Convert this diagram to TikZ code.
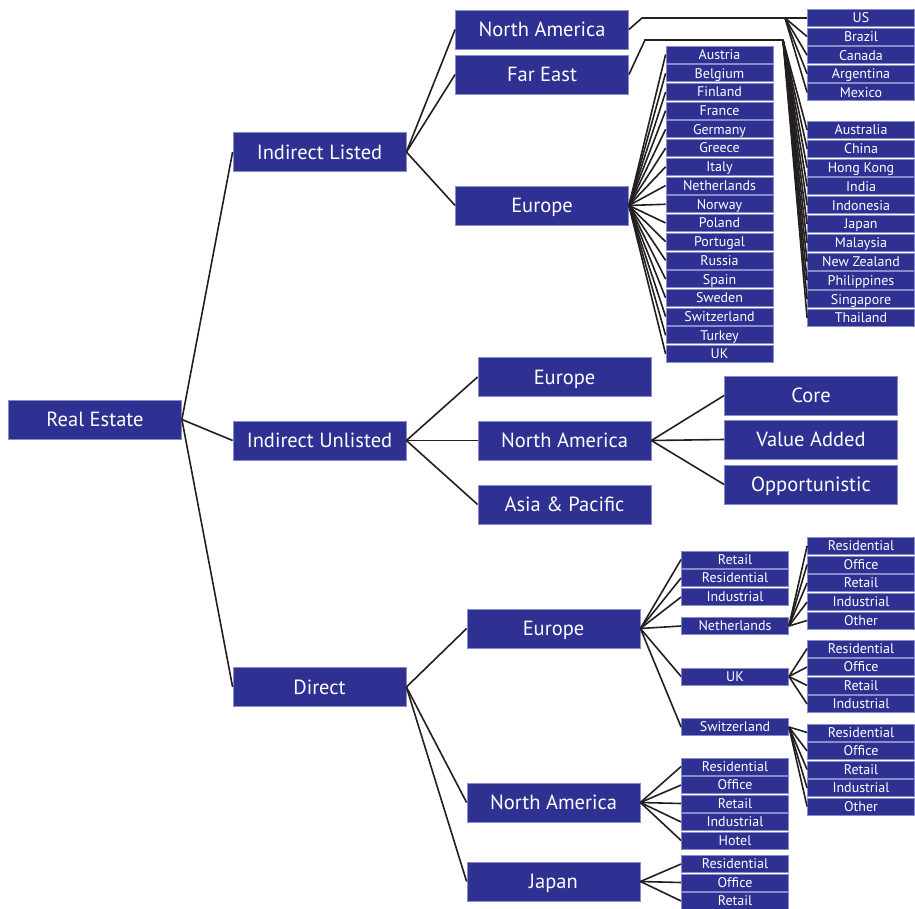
\documentclass[tikz,border=0pt]{standalone}
\usepackage{fontspec}
\setmainfont{PT Sans}
\definecolor{boxblue}{HTML}{2E3192}
\definecolor{boxedge}{HTML}{8A8CC8}
\definecolor{wirec}{HTML}{231F20}
\begin{document}
\begin{tikzpicture}[x=1pt,y=-1pt,
 box/.style={fill=boxblue,draw=boxedge,line width=0.8pt,text=white,inner sep=0pt,anchor=center,text depth=0pt},
 big/.style={box,minimum width=173pt,minimum height=39pt,text height=14.2pt,font=\fontsize{20.5}{21}\selectfont},
 small/.style={box,minimum width=107pt,minimum height=17pt,text height=9.8pt,font=\fontsize{14}{15}\selectfont},
 wire/.style={draw=wirec,line width=1.6pt}]
\useasboundingbox (0,0) rectangle (915,909);
% big boxes
\node[big] (re) at (95,419.5) {Real Estate};
\node[big] (il) at (319.5,152) {Indirect Listed};
\node[big] (iu) at (319.5,440.5) {Indirect Unlisted};
\node[big] (dir) at (319.5,687) {Direct};
\node[big] (lna) at (542,29.5) {North America};
\node[big] (lfe) at (542,74.5) {Far East};
\node[big] (leu) at (542,205.5) {Europe};
\node[big] (ueu) at (564.5,377) {Europe};
\node[big] (una) at (564.5,440.5) {North America};
\node[big] (uap) at (564.5,504.5) {Asia \& Pacific};
\node[big] (core) at (811,395.5) {Core};
\node[big] (va) at (811,439.5) {Value Added};
\node[big] (opp) at (811,484.5) {Opportunistic};
\node[big] (deu) at (553.5,628.5) {Europe};
\node[big] (dna) at (553.5,802.5) {North America};
\node[big] (djp) at (553.5,881.5) {Japan};
% listed europe countries
\foreach \t [count=\i from 0] in {Austria,Belgium,Finland,France,Germany,Greece,Italy,Netherlands,Norway,Poland,Portugal,Russia,Spain,Sweden,Switzerland,Turkey,UK}
  \node[small] (eu\i) at ({719.5},{54.5+18.72*\i}) {\t};
\foreach \t [count=\i from 0] in {US,Brazil,Canada,Argentina,Mexico}
  \node[small] (na\i) at ({861},{18+18.6*\i}) {\t};
\foreach \t [count=\i from 0] in {Australia,China,Hong Kong,India,Indonesia,Japan,Malaysia,New Zealand,Philippines,Singapore,Thailand}
  \node[small] (fe\i) at ({861},{130+18.8*\i}) {\t};
% direct europe
\node[small] (de1) at (735,559.5) {Retail};
\node[small] (de2) at (735,578) {Residential};
\node[small] (de3) at (735,597) {Industrial};
\node[small] (de4) at (735,626) {Netherlands};
\node[small] (de5) at (735,676.5) {UK};
\node[small] (de6) at (735,727) {Switzerland};
\foreach \t/\y [count=\i] in {Residential/546,Office/564.5,Retail/583,Industrial/602,Other/620.5}
  \node[small] (nl\i) at (861,\y) {\t};
\foreach \t/\y [count=\i] in {Residential/648.5,Office/667,Retail/685.5,Industrial/704}
  \node[small] (uk\i) at (861,\y) {\t};
\foreach \t/\y [count=\i] in {Residential/732.5,Office/751,Retail/769.5,Industrial/788,Other/806.5}
  \node[small] (ch\i) at (861,\y) {\t};
\foreach \t/\y [count=\i] in {Residential/766.5,Office/785,Retail/803.5,Industrial/822,Hotel/840.5}
  \node[small] (ns\i) at (735,\y) {\t};
\foreach \t/\y [count=\i] in {Residential/864,Office/882.5,Retail/901}
  \node[small] (jp\i) at (735,\y) {\t};
% connectors
\foreach \n in {il,iu,dir} \draw[wire] (re.east) -- (\n.west);
\foreach \n in {lna,lfe,leu} \draw[wire] (il.east) -- (\n.west);
\foreach \n in {ueu,una,uap} \draw[wire] (iu.east) -- (\n.west);
\foreach \n in {core,va,opp} \draw[wire] (una.east) -- (\n.west);
\foreach \n in {deu,dna,djp} \draw[wire] (dir.east) -- (\n.west);
\foreach \i in {0,...,16} \draw[wire] (leu.east) -- (eu\i.west);
\coordinate (naA) at (642,18);
\coordinate (naB) at (785,18);
\coordinate (feA) at (645,40);
\coordinate (feB) at (783,40);
\draw[wire] (lna.east) -- (naA) -- (naB);
\foreach \i in {0,...,4} \draw[wire] (naB) -- (na\i.west);
\draw[wire] (lfe.east) -- (feA) -- (feB);
\foreach \i in {0,...,10} \draw[wire] (feB) -- (fe\i.west);
\foreach \i in {1,...,6} \draw[wire] (deu.east) -- (de\i.west);
\foreach \i in {1,...,5} \draw[wire] (de4.east) -- (nl\i.west);
\foreach \i in {1,...,4} \draw[wire] (de5.east) -- (uk\i.west);
\foreach \i in {1,...,5} \draw[wire] (de6.east) -- (ch\i.west);
\foreach \i in {1,...,5} \draw[wire] (dna.east) -- (ns\i.west);
\foreach \i in {1,...,3} \draw[wire] (djp.east) -- (jp\i.west);
\end{tikzpicture}
\end{document}
